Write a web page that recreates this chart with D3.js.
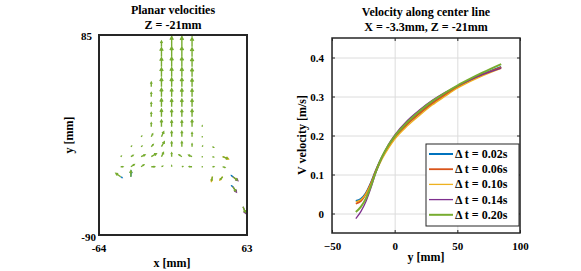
<!DOCTYPE html>
<html>
<head>
<meta charset="utf-8">
<script src="https://cdn.jsdelivr.net/npm/d3@7/dist/d3.min.js"></script>
<style>
  body { margin: 0; background: #fff; }
  svg text { font-family: "Liberation Serif", "Times New Roman", serif; font-weight: bold; fill: #000; }
</style>
</head>
<body>
<svg id="chart" width="581" height="271"></svg>
<script>
// ---- centre-line profile (right panel) ----
const yPos = [-31, -27, -23, -19, -15, -10, -5, 0, 10, 20, 30, 40, 50, 60, 70, 85];
const vDt002 = [0.032, 0.037, 0.052, 0.078, 0.110, 0.145, 0.172, 0.195, 0.230, 0.258, 0.283, 0.305, 0.325, 0.342, 0.357, 0.376];
const vDt006 = [0.025, 0.032, 0.050, 0.077, 0.110, 0.145, 0.172, 0.195, 0.229, 0.257, 0.282, 0.304, 0.324, 0.341, 0.356, 0.375];
const vDt010 = [0.030, 0.035, 0.050, 0.075, 0.106, 0.140, 0.167, 0.190, 0.224, 0.252, 0.278, 0.300, 0.321, 0.338, 0.353, 0.372];
const vDt014 = [-0.013, 0.005, 0.030, 0.065, 0.105, 0.145, 0.177, 0.201, 0.238, 0.266, 0.290, 0.310, 0.327, 0.342, 0.356, 0.373];
const vDt020 = [0.004, 0.017, 0.038, 0.070, 0.107, 0.146, 0.175, 0.198, 0.234, 0.263, 0.288, 0.309, 0.328, 0.345, 0.361, 0.383];
const seriesNames = ['t = 0.02s', 't = 0.06s', 't = 0.10s', 't = 0.14s', 't = 0.20s'];
const seriesColors = ['#0072BD', '#D95319', '#EDB120', '#7E2F8E', '#77AC30'];
const seriesWidths = [2, 1.8, 1.3, 1.3, 2];
const xTicks = [-50, 0, 50, 100];
const yTicks = [0, 0.1, 0.2, 0.3, 0.4];

// ---- planar velocity field (left panel), grid in mm, vectors in m/s ----
const qCols = [-45.4, -36.65, -27.9, -19.15, -10.4, -1.65, 7.1, 15.85, 24.6, 33.35, 42.1, 50.85, 59.6];
const qRows = [83.5, 74.75, 66, 57.25, 48.5, 39.75, 31, 22.25, 13.5, 4.75, -4, -12.75, -21.5, -30.25, -39, -47.75, -56.5, -65.25];
// [col, row, u, v]
const qField = [
  [0, 12, 0.02, 0.02], [0, 13, 0.08, 0.0], [0, 14, -0.17, 0.12],
  [1, 11, 0.02, 0.02], [1, 12, 0.08, 0.05], [1, 13, 0.12, 0.08], [1, 14, 0.0, 0.22],
  [2, 10, 0.02, 0.02], [2, 11, 0.03, 0.02], [2, 12, 0.14, 0.07], [2, 13, 0.10, 0.07],
  [3, 5, 0, 0.16], [3, 6, 0, 0.15], [3, 7, 0, 0.15], [3, 8, 0, 0.15], [3, 9, 0, 0.14],
  [3, 10, 0.05, 0.10], [3, 11, 0.07, 0.08], [3, 12, 0.18, 0.11], [3, 13, 0.12, 0.0],
  [4, 1, 0, 0.20], [4, 2, 0, 0.33], [4, 3, 0, 0.33], [4, 4, 0, 0.32], [4, 5, 0, 0.31],
  [4, 6, 0, 0.30], [4, 7, 0, 0.29], [4, 8, 0, 0.27], [4, 9, 0, 0.24],
  [4, 10, 0.08, 0.18], [4, 11, 0.10, 0.18], [4, 12, 0.07, 0.15], [4, 13, 0.04, 0.02],
  [5, 0, 0, 0.37], [5, 1, 0, 0.365], [5, 2, 0, 0.355], [5, 3, 0, 0.345], [5, 4, 0, 0.33],
  [5, 5, 0, 0.315], [5, 6, 0, 0.295], [5, 7, 0, 0.275], [5, 8, 0, 0.25], [5, 9, 0, 0.22],
  [5, 10, 0, 0.19], [5, 11, 0, 0.17], [5, 12, 0, 0.14], [5, 13, 0, 0.04],
  [6, 0, 0, 0.37], [6, 1, 0, 0.36], [6, 2, 0, 0.35], [6, 3, 0, 0.34], [6, 4, 0, 0.325],
  [6, 5, 0, 0.31], [6, 6, 0, 0.29], [6, 7, 0, 0.27], [6, 8, 0, 0.25], [6, 9, 0, 0.22],
  [6, 10, 0, 0.19], [6, 11, 0, 0.18], [6, 12, -0.10, 0.07], [6, 13, 0.03, 0.01],
  [7, 0, 0, 0.34], [7, 1, 0, 0.33], [7, 2, 0, 0.32], [7, 3, 0, 0.31], [7, 4, 0, 0.30],
  [7, 5, 0, 0.29], [7, 6, 0, 0.28], [7, 7, 0, 0.27], [7, 8, 0, 0.26], [7, 9, 0, 0.24],
  [7, 10, 0, 0.15], [7, 11, 0, 0.10], [7, 12, -0.12, 0.06], [7, 13, -0.10, 0.0],
  [8, 9, 0, 0.03], [8, 10, 0, 0.02], [8, 11, 0.01, 0.02], [8, 12, 0.01, 0.01], [8, 13, 0.02, 0.0],
  [9, 11, 0.04, -0.02], [9, 12, 0.04, -0.01], [9, 13, 0.05, 0.0], [9, 14, -0.03, -0.13],
  [10, 12, 0.18, -0.07], [10, 13, 0.08, -0.03], [10, 14, -0.08, -0.10],
  [11, 14, 0.15, -0.12], [11, 15, 0.10, -0.16],
  [12, 17, 0.08, -0.20]
];
// other time steps that show out from under the green arrows: [series, col, row, u, v]
const qOther = [
  [0, 0, 14, 0.05, -0.03], [0, 1, 14, 0.01, 0.20],
  [2, 9, 14, -0.04, -0.17], [2, 10, 12, 0.21, -0.08], [2, 10, 14, -0.10, -0.12],
  [0, 11, 14, -0.05, 0.04], [3, 11, 14, 0.18, -0.14],
  [0, 11, 15, -0.04, 0.03], [3, 11, 15, 0.13, -0.20],
  [3, 12, 17, 0.10, -0.25]
];
const quiverScale = 24; // mm drawn per m/s

const svg = d3.select('#chart');
const axisColor = '#262626';

// ================= left panel =================
const lx = d3.scaleLinear().domain([-64, 63]).range([99, 247]);
const ly = d3.scaleLinear().domain([-90, 85]).range([235, 35]);

svg.append('clipPath').attr('id', 'clip-left')
  .append('rect').attr('x', 99).attr('y', 35).attr('width', 148).attr('height', 200);

const quiver = svg.append('g').attr('clip-path', 'url(#clip-left)');

function arrowPath(x0, y0, u, v) {
  const xs = lx(x0), ys = ly(y0);
  const xe = lx(x0 + u * quiverScale), ye = ly(y0 + v * quiverScale);
  const dx = xe - xs, dy = ye - ys;
  const len = Math.hypot(dx, dy);
  if (len < 0.6) return `M${xs - 0.6},${ys}L${xs + 0.6},${ys}`;
  const ang = Math.atan2(dy, dx);
  const h = Math.min(3.5, len * 0.4);
  const a1 = ang + Math.PI - 0.5, a2 = ang + Math.PI + 0.5;
  return `M${xs},${ys}L${xe},${ye}` +
    `M${xe + h * Math.cos(a1)},${ye + h * Math.sin(a1)}L${xe},${ye}L${xe + h * Math.cos(a2)},${ye + h * Math.sin(a2)}`;
}

quiver.selectAll('path.other')
  .data(qOther)
  .join('path')
  .attr('class', 'other')
  .attr('d', (d) => arrowPath(qCols[d[1]], qRows[d[2]], d[3], d[4]))
  .attr('fill', 'none')
  .attr('stroke', (d) => seriesColors[d[0]])
  .attr('stroke-width', 1.3);

quiver.selectAll('path.main')
  .data(qField)
  .join('path')
  .attr('class', 'main')
  .attr('d', (d) => arrowPath(qCols[d[0]], qRows[d[1]], d[2], d[3]))
  .attr('fill', 'none')
  .attr('stroke', seriesColors[4])
  .attr('stroke-width', 1.4);

svg.append('rect')
  .attr('x', 99).attr('y', 35).attr('width', 148).attr('height', 200)
  .attr('fill', 'none').attr('stroke', axisColor).attr('stroke-width', 2);

svg.append('text').attr('x', 92).attr('y', 40).attr('text-anchor', 'end')
  .style('font-size', '11px').text('85');
svg.append('text').attr('x', 96).attr('y', 241).attr('text-anchor', 'end')
  .style('font-size', '11px').text('-90');
svg.append('text').attr('x', lx(-64)).attr('y', 252).attr('text-anchor', 'middle')
  .style('font-size', '11px').text('-64');
svg.append('text').attr('x', lx(63)).attr('y', 252).attr('text-anchor', 'middle')
  .style('font-size', '11px').text('63');
svg.append('text').attr('x', 172).attr('y', 267).attr('text-anchor', 'middle')
  .style('font-size', '12px').text('x [mm]');
svg.append('text').attr('transform', 'translate(73,135) rotate(-90)').attr('text-anchor', 'middle')
  .style('font-size', '12px').text('y [mm]');
svg.append('text').attr('x', 173).attr('y', 14).attr('text-anchor', 'middle')
  .style('font-size', '12px').text('Planar velocities');
svg.append('text').attr('x', 173).attr('y', 29).attr('text-anchor', 'middle')
  .style('font-size', '12px').text('Z = -21mm');

// ================= right panel =================
const rx = d3.scaleLinear().domain([-50, 100]).range([332, 520]);
const ry = d3.scaleLinear().domain([-0.05, 0.45]).range([233, 38]);
const plotW = 520 - 332, plotH = 233 - 38;

// grid
svg.append('g').attr('transform', 'translate(0,233)')
  .call(d3.axisBottom(rx).tickValues(xTicks).tickSize(-plotH).tickFormat(''))
  .call((g) => g.select('.domain').remove())
  .call((g) => g.selectAll('line').attr('stroke', '#dcdcdc'));
svg.append('g').attr('transform', 'translate(332,0)')
  .call(d3.axisLeft(ry).tickValues(yTicks).tickSize(-plotW).tickFormat(''))
  .call((g) => g.select('.domain').remove())
  .call((g) => g.selectAll('line').attr('stroke', '#dcdcdc'));

const line = d3.line()
  .x((d) => rx(d[0]))
  .y((d) => ry(d[1]))
  .curve(d3.curveMonotoneX);

[vDt002, vDt006, vDt010, vDt014, vDt020].forEach((vals, i) => {
  svg.append('path')
    .datum(yPos.map((y, j) => [y, vals[j]]))
    .attr('d', line)
    .attr('fill', 'none')
    .attr('stroke', seriesColors[i])
    .attr('stroke-width', seriesWidths[i]);
});

// axes with inward ticks on all four sides
function styleAxis(g) {
  g.select('.domain').remove();
  g.selectAll('line').attr('stroke', axisColor);
  g.selectAll('text').style('font-size', '11px').style('font-family', '"Liberation Serif", serif')
    .style('font-weight', 'bold').attr('fill', '#000');
}
svg.append('g').attr('transform', 'translate(0,233)')
  .call(d3.axisBottom(rx).tickValues(xTicks).tickSize(-3).tickPadding(9).tickFormat(d3.format('d')))
  .call(styleAxis);
svg.append('g').attr('transform', 'translate(0,38)')
  .call(d3.axisTop(rx).tickValues(xTicks).tickSize(-3).tickFormat(''))
  .call(styleAxis);
svg.append('g').attr('transform', 'translate(332,0)')
  .call(d3.axisLeft(ry).tickValues(yTicks).tickSize(-3).tickPadding(8).tickFormat((d) => (d === 0 ? '0' : d3.format('.1f')(d))))
  .call(styleAxis);
svg.append('g').attr('transform', 'translate(520,0)')
  .call(d3.axisRight(ry).tickValues(yTicks).tickSize(-3).tickFormat(''))
  .call(styleAxis);

svg.append('rect')
  .attr('x', 332).attr('y', 38).attr('width', plotW).attr('height', plotH)
  .attr('fill', 'none').attr('stroke', axisColor).attr('stroke-width', 1.5);

svg.append('text').attr('x', 426).attr('y', 16).attr('text-anchor', 'middle')
  .style('font-size', '12px').text('Velocity along center line');
svg.append('text').attr('x', 426).attr('y', 31).attr('text-anchor', 'middle')
  .style('font-size', '12px').text('X = -3.3mm, Z = -21mm');
svg.append('text').attr('x', 426).attr('y', 261).attr('text-anchor', 'middle')
  .style('font-size', '12px').text('y [mm]');
svg.append('text').attr('transform', 'translate(306,135) rotate(-90)').attr('text-anchor', 'middle')
  .style('font-size', '12px').text('V velocity [m/s]');

// legend
const legend = svg.append('g');
legend.append('rect')
  .attr('x', 426).attr('y', 144).attr('width', 93).attr('height', 82)
  .attr('fill', '#fff').attr('stroke', axisColor).attr('stroke-width', 1);
seriesNames.forEach((name, i) => {
  const yy = 154 + i * 15.2;
  legend.append('line')
    .attr('x1', 429).attr('x2', 453).attr('y1', yy).attr('y2', yy)
    .attr('stroke', seriesColors[i]).attr('stroke-width', seriesWidths[i]);
  legend.append('text').attr('x', 455).attr('y', yy + 4)
    .style('font-size', '12px').text('\u0394 ' + name);
});
</script>
</body>
</html>
